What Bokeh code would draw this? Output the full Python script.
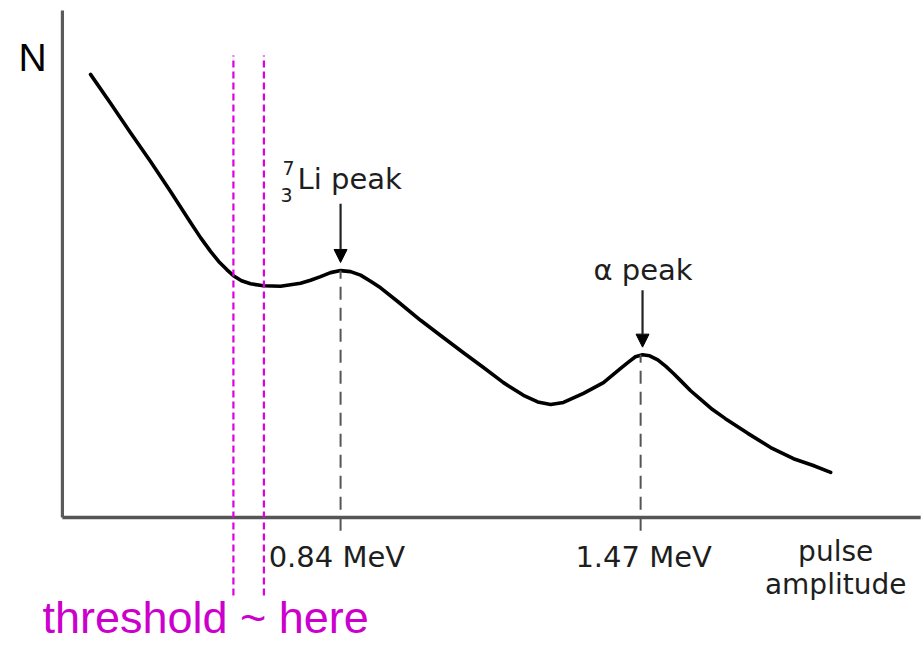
from bokeh.plotting import figure
from bokeh.models import Range1d, Arrow, NormalHead
from bokeh.core.properties import value
from bokeh.embed import file_html
from bokeh.resources import INLINE

# ---- data (pulse amplitude in MeV, counts N in arbitrary units) ----
amp = [0.315, 0.357, 0.399, 0.441, 0.483, 0.525, 0.546, 0.567, 0.584, 0.601,
       0.615, 0.632, 0.651, 0.678, 0.714, 0.756, 0.777, 0.798, 0.819, 0.840,
       0.861, 0.882, 0.903, 0.924, 0.960, 1.008, 1.050, 1.098, 1.140, 1.182,
       1.224, 1.254, 1.281, 1.308, 1.350, 1.392, 1.428, 1.445, 1.459, 1.474,
       1.489, 1.506, 1.523, 1.539, 1.554, 1.575, 1.596, 1.621, 1.648, 1.695,
       1.743, 1.791, 1.831, 1.869]
counts = [87.4, 81.7, 75.9, 70.2, 64.3, 58.2, 55.2, 52.5, 50.5, 48.9,
          47.7, 46.7, 46.1, 45.7, 45.6, 46.2, 46.8, 47.5, 48.3, 48.7,
          48.5, 47.8, 46.6, 45.3, 42.6, 38.9, 35.9, 32.5, 29.6, 26.6,
          24.1, 22.8, 22.3, 22.7, 24.5, 26.6, 29.4, 30.7, 31.7, 32.1,
          31.9, 31.1, 29.8, 28.4, 27.0, 25.0, 23.3, 21.3, 19.5, 16.6,
          13.8, 11.6, 10.3, 8.9]

peak_energy = [0.84, 1.47]
peak_counts = [48.7, 32.1]
peak_labels = ["0.84 MeV", "1.47 MeV"]
threshold = [0.615, 0.679]

# ---- figure ----
p = figure(width=924, height=646, x_range=Range1d(0.126, 2.066),
           y_range=Range1d(-25.44, 101.97), x_axis_type=None, y_axis_type=None,
           toolbar_location=None, output_backend="svg", min_border=0,
           outline_line_color=None, background_fill_color="white")

# axes drawn as lines
x0, x1 = 0.256, 2.058
ytop = 100.0
p.line([x0, x0], [0, ytop], line_color="#5a5a5a", line_width=3.2)
p.line([x0, x1], [0, 0], line_color="#555555", line_width=3.6)

# curve
p.line(amp, counts, line_color="black", line_width=3.6, line_join="round", line_cap="round")

# dashed peak markers
for e, c in zip(peak_energy, peak_counts):
    p.line([e, e], [-2.6, c], line_color="#555555", line_width=2, line_dash="13 8")

# arrows
p.add_layout(Arrow(end=NormalHead(size=13, fill_color="black", line_color="black"),
                   x_start=0.84, y_start=61.9, x_end=0.84, y_end=50.3,
                   line_color="#222222", line_width=2.2))
p.add_layout(Arrow(end=NormalHead(size=13, fill_color="black", line_color="black"),
                   x_start=1.474, y_start=44.8, x_end=1.474, y_end=33.6,
                   line_color="#222222", line_width=2.2))

# threshold lines
for t in threshold:
    p.line([t, t], [-15.4, 91.1], line_color="#DD00DD", line_width=2.2, line_dash="7 4")

txt = "#1e1e1e"
dv = value("DejaVu Sans")
# peak labels
p.text(x=[0.7497], y=[66.7], text=["Li peak"], text_font=dv, text_font_size="29px",
       text_color=txt, text_baseline="alphabetic", text_align="left")
p.text(x=[0.718], y=[69.0], text=["7"], text_font=dv, text_font_size="19px",
       text_color=txt, text_baseline="alphabetic", text_align="left")
p.text(x=[0.714], y=[63.6], text=["3"], text_font=dv, text_font_size="19px",
       text_color=txt, text_baseline="alphabetic", text_align="left")
p.text(x=[1.371], y=[48.9], text=["α peak"], text_font=dv, text_font_size="29px",
       text_color=txt, text_baseline="alphabetic", text_align="left")

# energy labels
p.text(x=[peak_energy[0] - 0.151, peak_energy[1] - 0.137], y=[-7.83, -7.83],
       text=peak_labels, text_font=dv, text_font_size="29px",
       text_color=txt, text_baseline="alphabetic", text_align="left")

# axis titles
p.text(x=[1.8795], y=[-6.75], text=["pulse"], text_font=dv, text_font_size="28px",
       text_color=txt, text_baseline="alphabetic", text_align="center")
p.text(x=[1.8795], y=[-13.25], text=["amplitude"], text_font=dv, text_font_size="28px",
       text_color=txt, text_baseline="alphabetic", text_align="center")
p.text(x=[0.164], y=[90.8], text=["N"], text_font=value("Liberation Sans"),
       text_font_size="39px", text_color="black", text_baseline="alphabetic",
       text_align="left")

p.text(x=[0.214], y=[-19.8], text=["threshold ~ here"], text_font=value("Liberation Sans"),
       text_font_size="45px", text_color="#CC00CC", text_baseline="alphabetic",
       text_align="left")

open("out.html", "w").write(file_html(p, INLINE))
